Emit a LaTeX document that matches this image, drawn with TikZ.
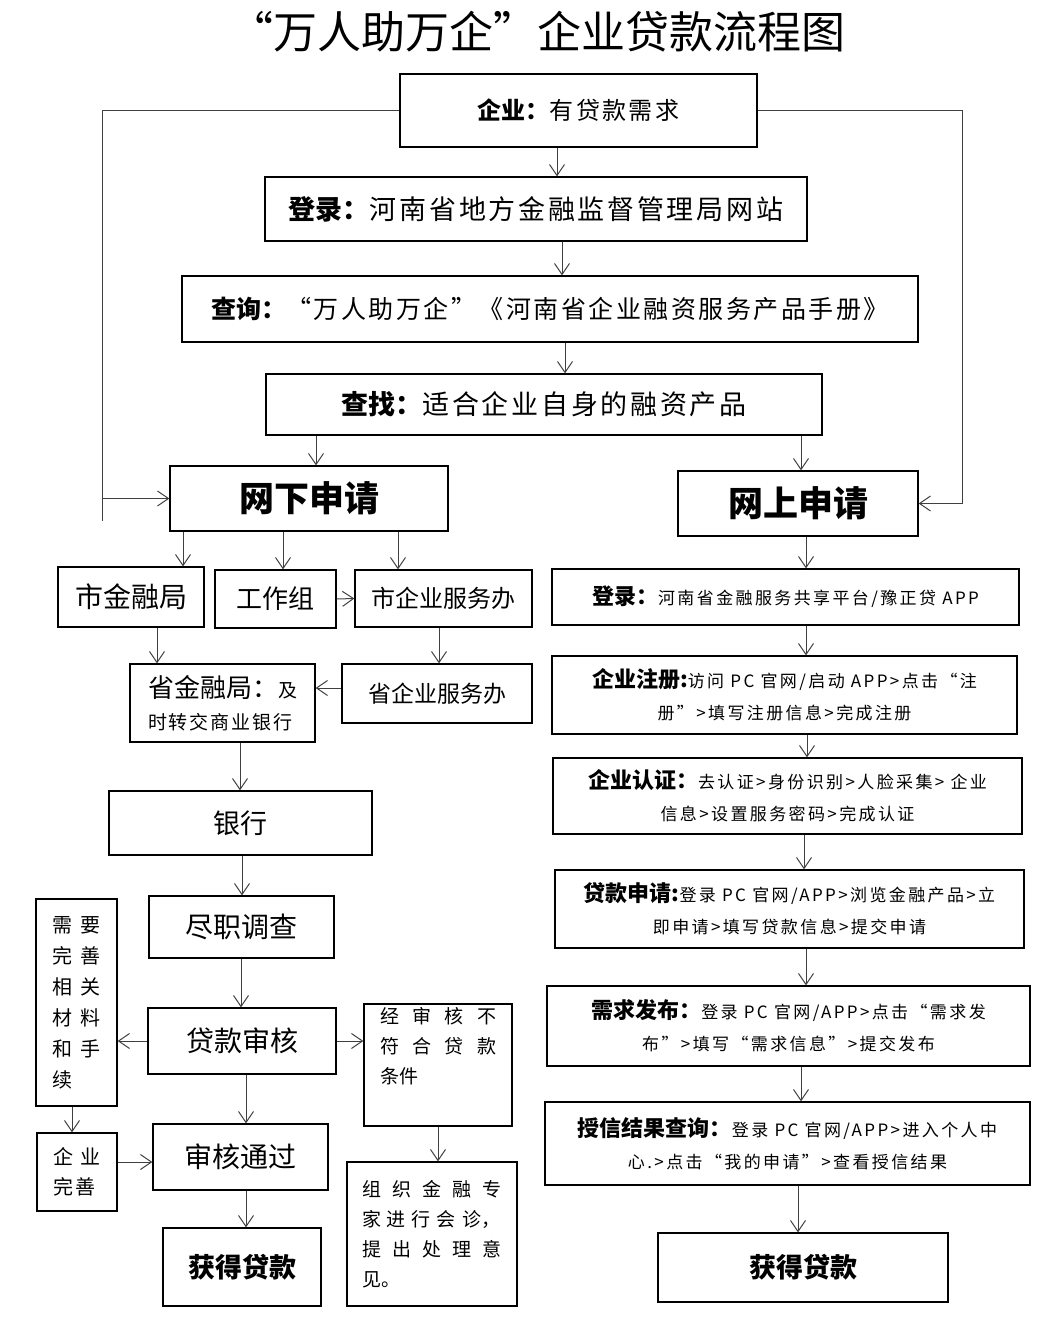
\documentclass[tikz,border=0pt]{standalone}
\usepackage{fontspec}
\setmainfont{Noto Sans CJK SC}
\newfontfamily\lsf[LetterSpace=14]{Noto Sans CJK SC}
\newfontfamily\lsm[LetterSpace=10]{Noto Sans CJK SC}
\usetikzlibrary{arrows.meta}
\newcommand\hdtxt[1]{{\normalfont\bfseries\fontsize{22}{32}\selectfont #1}}
\tikzset{
  box/.style={draw=black, line width=1.3pt, inner sep=2pt, align=center},
  arr/.style={draw=black!75, line width=1pt, -{Straight Barb[length=11pt,width=15pt]}},
  plain/.style={draw=black!75, line width=1pt},
  rbox/.style={box, font=\fontsize{17}{32}\selectfont\lsf},
}
\begin{document}
\begin{tikzpicture}[x=1pt,y=-1pt]
\useasboundingbox (0,0) rectangle (1050,1319);
\node[font=\fontsize{44}{50}\selectfont] (title) at (537,32) {“万人助万企”企业贷款流程图};

% top chain
\node[box, minimum width=357pt, minimum height=73pt, font=\fontsize{24}{30}\selectfont] (qy) at (578.5,110.5) {\textbf{企业：}{\lsm 有贷款需求}};
\node[box, minimum width=542pt, minimum height=64pt, font=\fontsize{27}{32}\selectfont] (dl1) at (536,209) {\textbf{登录：}{\lsm 河南省地方金融监督管理局网站}};
\node[box, minimum width=736pt, minimum height=66pt, font=\fontsize{25}{32}\selectfont] (cx) at (550,309) {\textbf{查询：}{\lsm “万人助万企”《河南省企业融资服务产品手册》}};
\node[box, minimum width=556pt, minimum height=61pt, font=\fontsize{27}{32}\selectfont] (cz) at (544,404.5) {\textbf{查找：}{\lsm 适合企业自身的融资产品}};
\node[box, minimum width=278pt, minimum height=65pt, font=\fontsize{35}{40}\selectfont\bfseries] (wx) at (309,498.5) {网下申请};
\node[box, minimum width=240pt, minimum height=65pt, font=\fontsize{35}{40}\selectfont\bfseries] (ws) at (798,503.5) {网上申请};

% offline branch
\node[box, minimum width=146pt, minimum height=60pt, font=\fontsize{28}{32}\selectfont] (sjr) at (131,597) {市金融局};
\node[box, minimum width=121pt, minimum height=58pt, font=\fontsize{26}{32}\selectfont] (gzz) at (275.5,599) {工作组};
\node[box, minimum width=177pt, minimum height=57pt, font=\fontsize{24}{32}\selectfont] (sqy) at (443.5,598.5) {市企业服务办};
\node[box, minimum width=185pt, minimum height=78pt, align=left, font=\fontsize{19}{32}\selectfont] (shjr) at (222.5,703) {{\fontsize{26}{32}\selectfont 省金融局：}{\lsm 及}\\{\lsm 时转交商业银行}};
\node[box, minimum width=190pt, minimum height=59pt, font=\fontsize{23}{32}\selectfont] (shqy) at (437,693.5) {省企业服务办};
\node[box, minimum width=263pt, minimum height=64pt, font=\fontsize{27}{32}\selectfont] (yh) at (240.5,823) {银行};
\node[box, minimum width=185pt, minimum height=62pt, font=\fontsize{28}{32}\selectfont] (jz) at (241.5,927) {尽职调查};
\node[box, minimum width=188pt, minimum height=66pt, font=\fontsize{28}{32}\selectfont] (dksh) at (242,1041) {贷款审核};
\node[box, minimum width=175pt, minimum height=66pt, font=\fontsize{28}{32}\selectfont] (shtg) at (240.5,1157) {审核通过};
\node[box, minimum width=158pt, minimum height=78pt, font=\fontsize{27}{32}\selectfont\bfseries] (hd1) at (242,1267) {获得贷款};
\node[box, minimum width=81pt, minimum height=207pt, align=left, font=\fontsize{20}{31}\selectfont] (xy) at (76.5,1002.5)
  {需\hspace{8pt}要\\完\hspace{8pt}善\\相\hspace{8pt}关\\材\hspace{8pt}料\\和\hspace{8pt}手\\续};
\node[box, minimum width=80pt, minimum height=78pt, align=left, font=\fontsize{20}{30}\selectfont] (qyws) at (77,1172)
  {企\hspace{7pt}业\\完\hspace{2pt}善};
\node[box, minimum width=148pt, minimum height=122pt, align=left, font=\fontsize{19}{30}\selectfont] (bfh) at (438,1065)
  {\makebox[116pt]{经\hfill 审\hfill 核\hfill 不}\\\makebox[116pt]{符\hfill 合\hfill 贷\hfill 款}\\\makebox[116pt][l]{条件}\\\strut};
\node[box, minimum width=170pt, minimum height=144pt, align=left, font=\fontsize{19}{30}\selectfont] (zz) at (432,1234)
  {\makebox[140pt]{组\hfill 织\hfill 金\hfill 融\hfill 专}\\\makebox[140pt][l]{家\hspace{6pt}进\hspace{6pt}行\hspace{6pt}会\hspace{6pt}诊，}\\\makebox[140pt]{提\hfill 出\hfill 处\hfill 理\hfill 意}\\\makebox[140pt][l]{见。}};

% online branch
\node[rbox, minimum width=467pt, minimum height=56pt] (dl2) at (785.5,597) {\hdtxt{登录：}河南省金融服务共享平台/豫正贷 APP};
\node[rbox, minimum width=465pt, minimum height=78pt] (zc) at (784.5,695) {\hdtxt{企业注册:}访问 PC 官网/启动 APP>点击“注\\册”>填写注册信息>完成注册};
\node[rbox, minimum width=469pt, minimum height=76pt] (rz) at (787.5,796) {\hdtxt{企业认证：}去认证>身份识别>人脸采集> 企业\\信息>设置服务密码>完成认证};
\node[rbox, minimum width=469pt, minimum height=78pt] (sq) at (789.5,909) {\hdtxt{贷款申请:}登录 PC 官网/APP>浏览金融产品>立\\即申请>填写贷款信息>提交申请};
\node[rbox, minimum width=483pt, minimum height=80pt] (fb) at (788.5,1026) {\hdtxt{需求发布：}登录 PC 官网/APP>点击“需求发\\布”>填写“需求信息”>提交发布};
\node[rbox, minimum width=485pt, minimum height=83pt] (sx) at (787.5,1143.5) {\hdtxt{授信结果查询：}登录 PC 官网/APP>进入个人中\\心.>点击“我的申请”>查看授信结果};
\node[box, minimum width=290pt, minimum height=69pt, font=\fontsize{27}{32}\selectfont\bfseries] (hd2) at (803,1267.5) {获得贷款};

% connectors
\coordinate (lx) at (102,0);
\coordinate (rx) at (962,0);
\draw[arr] ([xshift=-21.5pt]qy.south) -- ([xshift=21pt]dl1.north);
\draw[arr] ([xshift=26pt]dl1.south) -- ([xshift=12pt]cx.north);
\draw[arr] ([xshift=15pt]cx.south) -- ([xshift=21pt]cz.north);
\draw[arr] ([xshift=-228pt]cz.south) -- ([xshift=7pt]wx.north);
\draw[arr] ([xshift=257pt]cz.south) -- ([xshift=3pt]ws.north);
\draw[arr] (qy.west) -| (lx |- wx.west) -- (wx.west);
\draw[plain] (lx |- wx.west) -- ++(0,22);
\draw[arr] (qy.east) -| (rx |- ws.east) -- (ws.east);

\draw[arr] ([xshift=-126pt]wx.south) -- ([xshift=52pt]sjr.north);
\draw[arr] ([xshift=-26pt]wx.south) -- ([xshift=7.5pt]gzz.north);
\draw[arr] ([xshift=89pt]wx.south) -- ([xshift=-45.5pt]sqy.north);
\draw[arr] (gzz.east) -- (sqy.west);
\draw[arr] ([xshift=26pt]sjr.south) -- ([xshift=-65.5pt]shjr.north);
\draw[arr] ([xshift=-4.5pt]sqy.south) -- ([xshift=2pt]shqy.north);
\draw[arr] ([yshift=5.5pt]shqy.west) -- ([yshift=15pt]shjr.east);
\draw[arr] ([xshift=17.5pt]shjr.south) -- ([xshift=-0.5pt]yh.north);
\draw[arr] ([xshift=1.5pt]yh.south) -- ([xshift=0.5pt]jz.north);
\draw[arr] ([xshift=-0.5pt]jz.south) -- ([xshift=-1pt]dksh.north);
\draw[arr] (dksh.west) -- ([yshift=-38.5pt]xy.east);
\draw[arr] (dksh.east) -- ([yshift=24pt]bfh.west);
\draw[arr] ([xshift=4pt]dksh.south) -- ([xshift=5.5pt]shtg.north);
\draw[arr] ([xshift=-4.5pt]xy.south) -- ([xshift=-5pt]qyws.north);
\draw[arr] ([yshift=10pt]qyws.east) -- ([yshift=-5pt]shtg.west);
\draw[arr] ([xshift=5.5pt]shtg.south) -- ([xshift=4pt]hd1.north);
\draw[arr] (bfh.south) -- ([xshift=6pt]zz.north);

\draw[arr] ([xshift=8pt]ws.south) -- ([xshift=20.5pt]dl2.north);
\draw[arr] ([xshift=20.5pt]dl2.south) -- ([xshift=21.5pt]zc.north);
\draw[arr] ([xshift=22.5pt]zc.south) -- ([xshift=19.5pt]rz.north);
\draw[arr] ([xshift=16.5pt]rz.south) -- ([xshift=14.5pt]sq.north);
\draw[arr] ([xshift=16.5pt]sq.south) -- ([xshift=17.5pt]fb.north);
\draw[arr] ([xshift=12.5pt]fb.south) -- ([xshift=13.5pt]sx.north);
\draw[arr] ([xshift=10.5pt]sx.south) -- ([xshift=-5pt]hd2.north);
\end{tikzpicture}
\end{document}
